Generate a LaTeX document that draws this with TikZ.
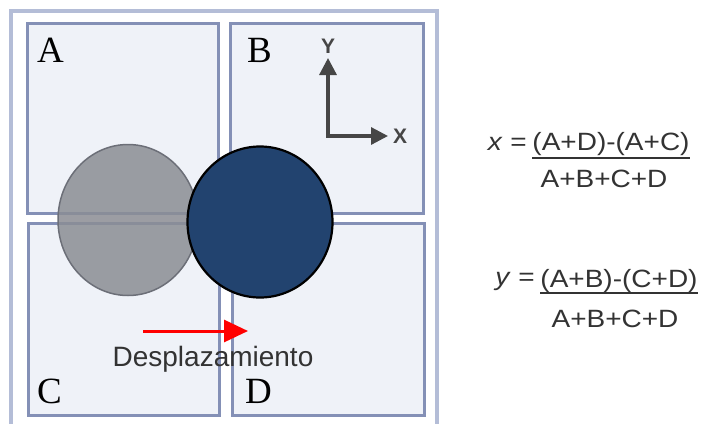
\documentclass[tikz,border=0pt]{standalone}
\usepackage{fontspec}
\setmainfont{Liberation Serif}
\setsansfont{Liberation Sans}
\newfontfamily\formulafont{Liberation Sans}[FakeStretch=1.12]
\usetikzlibrary{arrows.meta,positioning,shapes.geometric}
\definecolor{framegray}{HTML}{B4BDD7}
\definecolor{quadline}{HTML}{8490B6}
\definecolor{quadfill}{HTML}{EFF2F8}
\definecolor{spotgray}{HTML}{8B8D94}
\definecolor{spotedge}{HTML}{6C6F78}
\definecolor{spotblue}{HTML}{22436F}
\definecolor{axisgray}{HTML}{464646}
\definecolor{textgray}{HTML}{333333}
\tikzset{
  outerframe/.style={draw=framegray, line width=4pt},
  quadrant/.style={draw=quadline, fill=quadfill, line width=3pt, minimum width=191pt, minimum height=190pt, inner sep=0pt},
  quadlabel/.style={font=\fontsize{37}{37}\selectfont, inner sep=0pt, anchor=base west},
  oldspot/.style={ellipse, draw=spotedge, fill=spotgray, fill opacity=0.85, line width=1.5pt, minimum width=140pt, minimum height=151pt},
  newspot/.style={ellipse, draw=black, fill=spotblue, line width=2.2pt, minimum width=145pt, minimum height=151pt},
  axisarrow/.style={axisgray, line width=3.2pt, -{Triangle[length=17pt, width=17pt]}},
  axislabel/.style={axisgray, font=\sffamily\bfseries\fontsize{21}{21}\selectfont, inner sep=0pt},
  shiftarrow/.style={red, line width=3pt, -{Triangle[length=24pt, width=22pt]}},
  shifttext/.style={textgray, font=\sffamily\fontsize{28}{28}\selectfont, inner sep=0pt, anchor=base},
  fractext/.style={textgray, font=\formulafont\fontsize{25}{25}\selectfont, inner sep=0pt, anchor=base},
  fracbar/.style={textgray, line width=2.6pt}
}
\begin{document}
\begin{tikzpicture}[x=1pt, y=-1pt]
  \useasboundingbox (0,0) rectangle (701,423);
  \fill[white] (0,0) rectangle (701,423);
  % detector frame and quadrants
  \draw[outerframe] (11,430) -- (11,11) -- (437,11) -- (437,430);
  \node[quadrant] (boxA) at (122.5,118) {};
  \node[quadrant, minimum width=193pt] (boxB) at (326.5,118) {};
  \node[quadrant, minimum height=192pt] (boxC) at (123.5,319) {};
  \node[quadrant, minimum width=192pt, minimum height=192pt] (boxD) at (328,319) {};
  % beam spot before and after
  \node[oldspot] (spotold) at (128,220) {};
  \node[newspot] (spotnew) at (260,222) {};
  \node[quadlabel] (labA) at (37,62) {A};
  \node[quadlabel] (labB) at (247,62) {B};
  \node[quadlabel] (labC) at (37,403) {C};
  \node[quadlabel] (labD) at (245,403) {D};
  % axes
  \coordinate (orig) at (328,136);
  \coordinate (ytip) at (328,58);
  \coordinate (xtip) at (388,136);
  \draw[axisarrow] (orig) -- (ytip);
  \draw[axisarrow, shorten <=-1.6pt] (orig) -- (xtip);
  \node[axislabel, above=4pt of ytip] (ylab) {Y};
  \node[axislabel, right=5pt of xtip] (xlab) {X};
  % displacement
  \coordinate (shiftstart) at (143,331);
  \coordinate (shiftend) at (248,331);
  \draw[shiftarrow] (shiftstart) -- (shiftend);
  \node[shifttext] (shiftlab) at (213,366) {Desplazamiento};
  % formulas
  \node[fractext] (numx) at (611,150) {(A+D)-(A+C)};
  \node[fractext] (denx) at (604,187) {A+B+C+D};
  \draw[fracbar] ([yshift=-8pt]numx.base west) -- ([yshift=-8pt]numx.base east);
  \node[fractext, anchor=base east] (eqx) at (527,150) {\textit{x} =};
  \node[fractext] (numy) at (619,287) {(A+B)-(C+D)};
  \node[fractext] (deny) at (615,327) {A+B+C+D};
  \draw[fracbar] ([yshift=-6pt]numy.base west) -- ([yshift=-6pt]numy.base east);
  \node[fractext, anchor=base east] (eqy) at (535,285) {\textit{y} =};
\end{tikzpicture}
\end{document}
